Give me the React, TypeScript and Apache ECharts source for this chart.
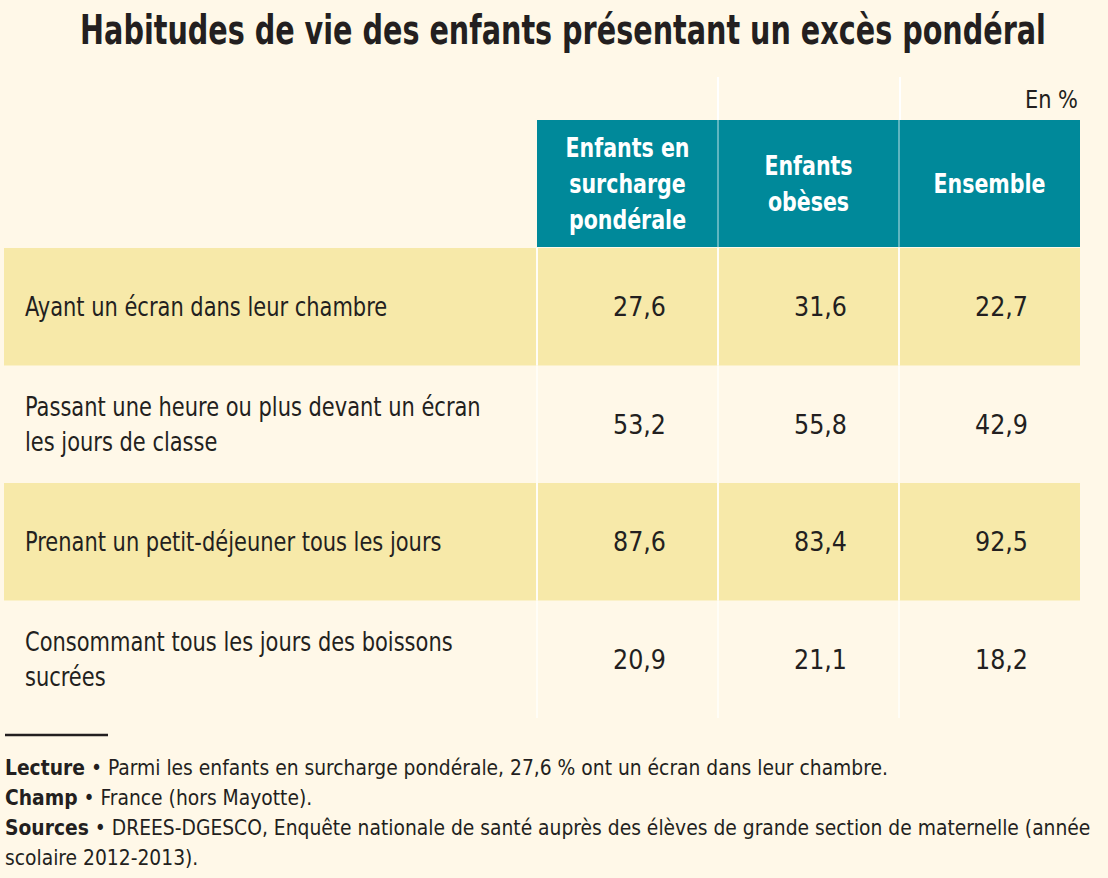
import React, { useEffect, useRef } from 'react';
import * as echarts from 'echarts';

const titleText = 'Habitudes de vie des enfants présentant un excès pondéral';
const unitLabel = 'En %';
const columns = ['Enfants en\nsurcharge\npondérale', 'Enfants\nobèses', 'Ensemble'];
const rows = [
  'Ayant un écran dans leur chambre',
  'Passant une heure ou plus devant un écran\nles jours de classe',
  'Prenant un petit-déjeuner tous les jours',
  'Consommant tous les jours des boissons\nsucrées',
];
const surcharge = [27.6, 53.2, 87.6, 20.9];
const obeses = [31.6, 55.8, 83.4, 21.1];
const ensemble = [22.7, 42.9, 92.5, 18.2];
const noteLabels = ['Lecture', 'Champ', 'Sources', ''];
const noteTexts = [
  ' • Parmi les enfants en surcharge pondérale, 27,6 % ont un écran dans leur chambre.',
  ' • France (hors Mayotte).',
  ' • DREES-DGESCO, Enquête nationale de santé auprès des élèves de grande section de maternelle (année',
  'scolaire 2012-2013).',
];

const BG = '#FFF8E8';
const YELLOW = '#F7E9A9';
const TEAL = '#00899A';
const INK = '#231F20';
const SEP = '#FFFDF6';
const FONT = '"Liberation Sans Narrow", "Arial Narrow", "DejaVu Sans Condensed", "Roboto Condensed", sans-serif';

const fmt = (v: number) => v.toFixed(1).replace('.', ',');

export default function App() {
  const ref = useRef<HTMLDivElement>(null);
  useEffect(() => {
    document.body.style.margin = '0';
    const ctx = document.createElement('canvas').getContext('2d')!;
    const measure = (text: string, size: number, weight: string) => {
      ctx.font = `${weight} ${size}px ${FONT}`;
      return Math.max(...text.split('\n').map((l) => ctx.measureText(l).width));
    };
    const TITLE_SIZE = 40;
    const LABEL_SIZE = 27;
    const HEAD_SIZE = 27;
    const VALUE_SIZE = 27;
    const NOTE_SIZE = 22;
    const titleScale = 966 / measure(titleText, TITLE_SIZE, 'bold');
    const labelScale = 456 / measure('Passant une heure ou plus devant un écran', LABEL_SIZE, 'normal');
    const headScale = 124 / measure('Enfants en', HEAD_SIZE, 'bold');
    const valueScale = 53 / measure('27,6', VALUE_SIZE, 'normal');
    const noteScale =
      883 / (measure(noteLabels[0], NOTE_SIZE, 'bold') + measure(noteTexts[0], NOTE_SIZE, 'normal'));
    const unitScale = 53 / measure(unitLabel, 24, 'normal');

    const chart = echarts.init(ref.current!, undefined, { renderer: 'svg' });
    const series = [surcharge, obeses, ensemble];
    const cellData: number[][] = [];
    series.forEach((arr, c) => arr.forEach((v, r) => cellData.push([c, r, v])));

    const option: any = {
      animation: false,
      backgroundColor: BG,
      grid: [
        { left: 4, top: 248, width: 533, height: 470 },
        { left: 537, top: 248, width: 543, height: 470 },
        { left: 537, top: 120, width: 543, height: 127 },
      ],
      xAxis: [
        { gridIndex: 0, type: 'category', data: ['label'], show: false },
        { gridIndex: 1, type: 'category', data: columns, show: false },
        { gridIndex: 2, type: 'category', data: columns, show: false },
      ],
      yAxis: [
        { gridIndex: 0, type: 'category', data: rows, inverse: true, show: false },
        { gridIndex: 1, type: 'category', data: rows, inverse: true, show: false },
        { gridIndex: 2, type: 'category', data: ['header'], show: false },
      ],
      series: [
        {
          type: 'custom',
          xAxisIndex: 0,
          yAxisIndex: 0,
          data: rows.map((_, i) => [0, i]),
          renderItem: (params: any, api: any) => {
            const i = params.dataIndex;
            const p = api.coord([api.value(0), api.value(1)]);
            const s = api.size([1, 1]);
            const x0 = p[0] - s[0] / 2;
            const y0 = p[1] - s[1] / 2;
            return {
              type: 'group',
              children: [
                {
                  type: 'rect',
                  shape: { x: x0, y: y0, width: s[0], height: s[1] },
                  style: { fill: i % 2 === 0 ? YELLOW : 'rgba(0,0,0,0)' },
                },
                {
                  type: 'text',
                  x: x0 + 21,
                  y: p[1],
                  scaleX: labelScale,
                  style: {
                    text: rows[i],
                    fill: INK,
                    fontFamily: FONT,
                    fontSize: LABEL_SIZE,
                    lineHeight: 35,
                    align: 'left',
                    verticalAlign: 'middle',
                  },
                },
              ],
            };
          },
        },
        {
          type: 'custom',
          xAxisIndex: 1,
          yAxisIndex: 1,
          data: cellData,
          renderItem: (params: any, api: any) => {
            const c = api.value(0);
            const r = api.value(1);
            const v = api.value(2);
            const p = api.coord([c, r]);
            const s = api.size([1, 1]);
            const x0 = p[0] - s[0] / 2;
            const y0 = p[1] - s[1] / 2;
            return {
              type: 'group',
              children: [
                {
                  type: 'rect',
                  shape: { x: x0, y: y0, width: s[0], height: s[1] },
                  style: { fill: r % 2 === 0 ? YELLOW : 'rgba(0,0,0,0)' },
                },
                {
                  type: 'line',
                  shape: { x1: x0, y1: y0, x2: x0, y2: y0 + s[1] },
                  style: { stroke: SEP, lineWidth: 2 },
                },
                {
                  type: 'text',
                  x: p[0] + 12,
                  y: p[1],
                  scaleX: valueScale,
                  style: {
                    text: fmt(v),
                    fill: INK,
                    fontFamily: FONT,
                    fontSize: VALUE_SIZE,
                    align: 'center',
                    verticalAlign: 'middle',
                  },
                },
              ],
            };
          },
        },
        {
          type: 'custom',
          xAxisIndex: 2,
          yAxisIndex: 2,
          data: columns.map((_, i) => [i, 0]),
          renderItem: (params: any, api: any) => {
            const i = params.dataIndex;
            const p = api.coord([api.value(0), api.value(1)]);
            const s = api.size([1, 1]);
            const x0 = p[0] - s[0] / 2;
            const y0 = p[1] - s[1] / 2;
            const children: any[] = [
              {
                type: 'rect',
                shape: { x: x0, y: y0, width: s[0], height: s[1] },
                style: { fill: TEAL },
              },
              {
                type: 'text',
                x: p[0],
                y: p[1],
                scaleX: headScale,
                style: {
                  text: columns[i],
                  fill: '#FFFFFF',
                  fontFamily: FONT,
                  fontWeight: 'bold',
                  fontSize: HEAD_SIZE,
                  lineHeight: 36,
                  align: 'center',
                  verticalAlign: 'middle',
                },
              },
            ];
            if (i > 0) {
              children.push({
                type: 'line',
                shape: { x1: x0, y1: y0, x2: x0, y2: y0 + s[1] },
                style: { stroke: '#7FC4CC', lineWidth: 1.5 },
              });
            }
            return { type: 'group', children };
          },
        },
      ],
      graphic: [
        {
          type: 'text',
          x: 563,
          y: 30,
          scaleX: titleScale,
          style: {
            text: titleText,
            fill: INK,
            fontFamily: FONT,
            fontWeight: 'bold',
            fontSize: TITLE_SIZE,
            align: 'center',
            verticalAlign: 'middle',
          },
        },
        {
          type: 'text',
          x: 1078,
          y: 100,
          scaleX: unitScale,
          style: {
            text: unitLabel,
            fill: INK,
            fontFamily: FONT,
            fontSize: 24,
            align: 'right',
            verticalAlign: 'middle',
          },
        },
        { type: 'line', shape: { x1: 718, y1: 77, x2: 718, y2: 120 }, style: { stroke: '#FFFFFF', lineWidth: 2 } },
        { type: 'line', shape: { x1: 900, y1: 77, x2: 900, y2: 120 }, style: { stroke: '#FFFFFF', lineWidth: 2 } },
        { type: 'line', shape: { x1: 5, y1: 735, x2: 108, y2: 735 }, style: { stroke: INK, lineWidth: 2.5 } },
        ...noteTexts.map((t, i) => ({
          type: 'text',
          x: 5,
          y: 767 + i * 30,
          scaleX: noteScale,
          style: {
            text: noteLabels[i] ? `{b|${noteLabels[i]}}${t}` : t,
            fill: INK,
            fontFamily: FONT,
            fontSize: NOTE_SIZE,
            align: 'left',
            verticalAlign: 'middle',
            rich: {
              b: { fontFamily: FONT, fontWeight: 'bold', fontSize: NOTE_SIZE, fill: INK },
            },
          },
        })),
      ],
    };
    chart.setOption(option);
    return () => chart.dispose();
  }, []);
  return (
    <div
      ref={ref}
      style={{ position: 'absolute', left: 0, top: 0, width: 1108, height: 878 }}
    />
  );
}
